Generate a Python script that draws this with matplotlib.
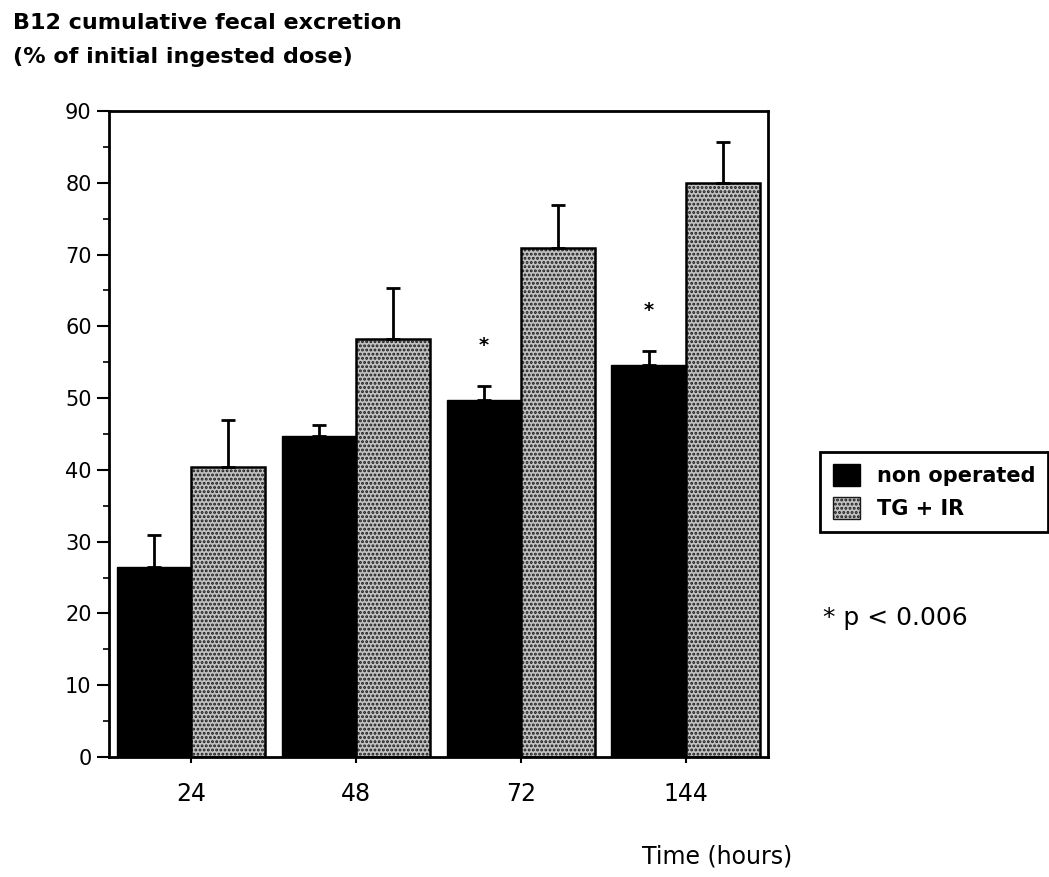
import numpy as np
import matplotlib
matplotlib.use("Agg")
import matplotlib.pyplot as plt
from matplotlib.patches import Patch

# values (% of initial ingested dose)
times = ["24", "48", "72", "144"]
non_operated = [26.5, 44.7, 49.7, 54.6]
non_operated_err = [4.4, 1.6, 2.0, 2.0]
tg_ir = [40.4, 58.2, 70.9, 80.0]
tg_ir_err = [6.5, 7.1, 6.0, 5.7]
signif = [False, False, True, True]

plt.rcParams["font.family"] = ["DejaVu Sans"]
plt.rcParams["hatch.linewidth"] = 1.4

fig = plt.figure(figsize=(10.49, 8.77), dpi=100)
ax = fig.add_axes([0.1039, 0.1368, 0.6282, 0.7366])

x = np.arange(len(times))
w = 0.45
grey = "#c2c2c2"

err_kw = dict(ecolor="black", elinewidth=2, capsize=5, capthick=2)
ax.bar(x - w / 2, non_operated, w, color="black", edgecolor="black",
       yerr=[np.zeros(len(x)), non_operated_err], error_kw=err_kw, zorder=2)
ax.bar(x + w / 2, tg_ir, w, color=grey, edgecolor="#1a1a1a", hatch="....",
       linewidth=0, yerr=[np.zeros(len(x)), tg_ir_err], error_kw=err_kw, zorder=2)
# outline of the textured bars
ax.bar(x + w / 2, tg_ir, w, fill=False, edgecolor="black", linewidth=1.8, zorder=3)

# significance stars above non-operated bars
for i in range(len(x)):
    if signif[i]:
        top = non_operated[i] + non_operated_err[i]
        ax.text(x[i] - w / 2, top + 5.6, "*", ha="center", va="center",
                fontsize=14, fontweight="bold")

ax.set_xlim(-0.5, 3.5)
ax.set_ylim(0, 90)
ax.set_xticks(x)
ax.set_xticklabels(times, fontsize=17)
ax.set_yticks(np.arange(0, 91, 10))
ax.set_yticks(np.arange(5, 90, 10), minor=True)
ax.tick_params(axis="y", labelsize=15, length=9, width=1.5, direction="out")
ax.tick_params(axis="y", which="minor", length=4, width=1.2)
ax.tick_params(axis="x", length=4, width=1.5, direction="out", pad=14)
for s in ax.spines.values():
    s.set_linewidth(2)

fig.text(0.012, 0.974, "B12 cumulative fecal excretion", fontsize=16,
         fontweight="bold", va="center")
fig.text(0.012, 0.935, "(% of initial ingested dose)", fontsize=16,
         fontweight="bold", va="center")
fig.text(0.612, 0.023, "Time (hours)", fontsize=17, va="center")

handles = [Patch(facecolor="black", edgecolor="black"),
           Patch(facecolor=grey, edgecolor="#1a1a1a", hatch="....")]
leg = fig.legend(handles, ["non operated", "TG + IR"], loc="upper left",
                 bbox_to_anchor=(0.782, 0.485),
                 prop={"weight": "bold", "size": 15}, frameon=True,
                 fancybox=False, edgecolor="black", framealpha=1,
                 handlelength=1.3, handleheight=1.2, borderpad=0.6,
                 labelspacing=0.55, handletextpad=0.8, borderaxespad=0)
leg.get_frame().set_linewidth(2)

fig.text(0.785, 0.295, "* p < 0.006", fontsize=18, va="center")

fig.savefig("out.png", dpi=100)
